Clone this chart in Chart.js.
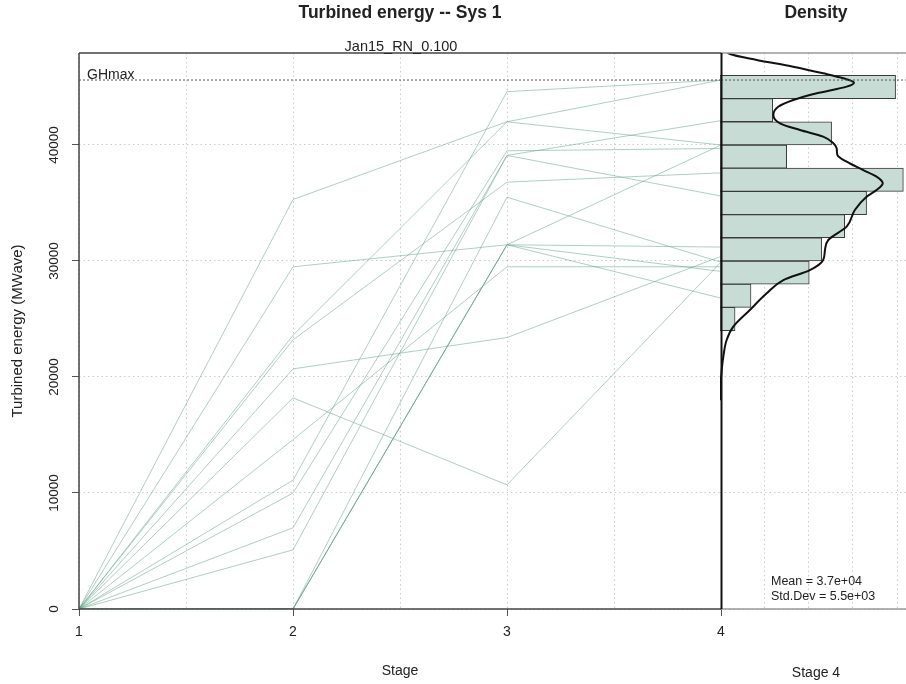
<!DOCTYPE html>
<html>
<head>
<meta charset="utf-8">
<script src="https://cdn.jsdelivr.net/npm/chart.js@4"></script>
<style>
  body { margin: 0; background: #fff; }
  #wrap { position: relative; width: 906px; height: 684px; overflow: hidden; font-family: 'Liberation Sans', Arial, sans-serif; color: #222; }
  canvas { position: absolute; left: 0; top: 0; }
  #densChart { pointer-events: none; }
  .txt { position: absolute; white-space: nowrap; line-height: 1; transform: translate(-50%, -50%); }
  .left { transform: translate(0, -50%); }
  .bold { font-weight: bold; }
</style>
</head>
<body>
<div id="wrap">
  <canvas id="mainChart" width="906" height="684"></canvas>
  <canvas id="densChart" width="906" height="684"></canvas>
  <div class="txt bold" style="left:400px;top:13px;font-size:17.5px">Turbined energy -- Sys 1</div>
  <div class="txt" style="left:401px;top:46px;font-size:14.5px">Jan15_RN_0.100</div>
  <div class="txt bold" style="left:816px;top:13px;font-size:17.5px">Density</div>
  <div class="txt left" style="left:87px;top:74px;font-size:14px">GHmax</div>
  <div class="txt left" style="left:771px;top:581px;font-size:12.5px">Mean = 3.7e+04</div>
  <div class="txt left" style="left:771px;top:596px;font-size:12.5px">Std.Dev = 5.5e+03</div>
  <div class="txt" style="left:816px;top:672px;font-size:14px">Stage 4</div>
</div>
<script>
// stages on the x axis
const stages = [1, 2, 3, 4];

// turbined energy per scenario (MWave), stage 1..4
const scen01 = [0, 35300, 42000, 40000];
const scen02 = [0, 29500, 31400, 31200];
const scen03 = [0, 23600, 42000, 45600];
const scen04 = [0, 23200, 36800, 37600];
const scen05 = [0, 20700, 23400, 30400];
const scen06 = [0, 18200, 10700, 29900];
const scen07 = [0, 14600, 29500, 29500];
const scen08 = [0, 11100, 44600, 45600];
const scen09 = [0, 10000, 39500, 39700];
const scen10 = [0, 7000, 39100, 35600];
const scen11 = [0, 5100, 39100, 42100];
const scen12 = [0, 0, 31400, 40000];
const scen13 = [0, 0, 31400, 29100];
const scen14 = [0, 0, 31400, 26800];
const scen15 = [0, 0, 35500, 29900];
const scenarios = [scen01, scen02, scen03, scen04, scen05, scen06, scen07, scen08,
                   scen09, scen10, scen11, scen12, scen13, scen14, scen15];

const ghMax = 45600;
const yTickLabels = [0, 10000, 20000, 30000, 40000];
const densGrid = [2, 4, 6, 8];

// stage 4 histogram (bin centres, density x 1e-5)
const histBins = [25000, 27000, 29000, 31000, 33000, 35000, 37000, 39000, 41000, 43000, 45000];
const histDensity = [0.68, 1.40, 4.03, 4.59, 5.63, 6.62, 8.28, 3.01, 5.04, 2.38, 7.93];

// kernel density estimate (value, density x 1e-5)
const kdeValues = [18000, 20000, 21750, 23190, 24340, 25780, 27210, 28360, 29220, 30090,
                   30950, 31810, 32960, 34400, 35540, 36120, 36700, 37270, 37840, 38560,
                   39140, 39710, 40150, 40720, 41290, 41870, 42590, 43300, 43880, 44460,
                   45030, 45370, 45750, 46180, 46750, 47330, 47840, 48500];
const kdeDensity = [0.0, 0.05, 0.15, 0.30, 0.60, 1.35, 2.11, 2.86, 4.06, 4.66,
                    4.74, 4.89, 5.72, 6.09, 6.62, 7.07, 7.35, 7.07, 6.47, 5.72,
                    5.30, 5.27, 5.12, 4.66, 3.61, 2.71, 2.41, 2.63, 3.31, 4.37,
                    5.72, 6.05, 5.57, 4.66, 3.30, 1.66, 0.45, 0.15];

const fontFam = "'Liberation Sans', Arial, sans-serif";
const yMax = 47930;
const lineColor = 'rgba(95, 160, 135, 0.5)';
const gridColor = 'rgba(0, 0, 0, 0.2)';
const gridDash = [1.5, 3];

// box, GHmax line and rotated y tick labels
const mainDecor = {
  id: 'mainDecor',
  afterDraw(chart) {
    const ctx = chart.ctx;
    const a = chart.chartArea;
    const ys = chart.scales.y;
    ctx.save();
    ctx.strokeStyle = '#444';
    ctx.lineWidth = 1.5;
    ctx.beginPath();
    ctx.moveTo(a.left, a.top); ctx.lineTo(a.right, a.top);
    ctx.moveTo(a.left, a.top); ctx.lineTo(a.left, a.bottom);
    ctx.moveTo(a.left, a.bottom); ctx.lineTo(a.right, a.bottom);
    ctx.stroke();

    const gy = ys.getPixelForValue(ghMax);
    ctx.strokeStyle = '#555';
    ctx.lineWidth = 1;
    ctx.setLineDash([2, 2]);
    ctx.beginPath();
    ctx.moveTo(a.left, gy); ctx.lineTo(a.right, gy);
    ctx.stroke();
    ctx.setLineDash([]);

    ctx.fillStyle = '#222';
    ctx.font = '13.5px ' + fontFam;
    ctx.textAlign = 'center';
    ctx.textBaseline = 'middle';
    yTickLabels.forEach(v => {
      ctx.save();
      ctx.translate(54, ys.getPixelForValue(v));
      ctx.rotate(-Math.PI / 2);
      ctx.fillText(String(v), 0, 0);
      ctx.restore();
    });
    ctx.restore();
  }
};

const densDecor = {
  id: 'densDecor',
  afterDraw(chart) {
    const ctx = chart.ctx;
    const a = chart.chartArea;
    const gy = chart.scales.y.getPixelForValue(ghMax);
    ctx.save();
    ctx.strokeStyle = '#999';
    ctx.lineWidth = 1.5;
    ctx.beginPath();
    ctx.moveTo(721, a.top); ctx.lineTo(a.right, a.top);
    ctx.moveTo(721, a.bottom); ctx.lineTo(a.right, a.bottom);
    ctx.stroke();

    ctx.strokeStyle = '#555';
    ctx.lineWidth = 1;
    ctx.setLineDash([2, 2]);
    ctx.beginPath();
    ctx.moveTo(721, gy); ctx.lineTo(a.right, gy);
    ctx.stroke();
    ctx.setLineDash([]);

    ctx.strokeStyle = '#111';
    ctx.lineWidth = 2;
    ctx.beginPath();
    ctx.moveTo(721.5, a.top); ctx.lineTo(721.5, a.bottom);
    ctx.stroke();
    ctx.restore();
  }
};

const mainChart = new Chart(document.getElementById('mainChart'), {
  type: 'line',
  data: {
    datasets: scenarios.map(s => ({
      data: s.map((v, i) => ({ x: stages[i], y: v })),
      borderColor: lineColor,
      borderWidth: 1,
      pointRadius: 0,
      fill: false,
      tension: 0
    }))
  },
  options: {
    responsive: false,
    animation: false,
    layout: { padding: { left: 0, top: 53, right: 185, bottom: 0 } },
    plugins: { legend: { display: false }, tooltip: { enabled: false } },
    scales: {
      x: {
        type: 'linear', min: 1, max: 4,
        ticks: {
          stepSize: 0.5, includeBounds: false, autoSkip: false, maxRotation: 0,
          padding: 8, color: '#222', font: { size: 14, family: fontFam },
          callback: v => Number.isInteger(v) ? String(v) : ''
        },
        grid: {
          color: gridColor, tickLength: 7, tickWidth: 1,
          tickColor: c => Number.isInteger(c.tick.value) ? '#555' : 'rgba(0,0,0,0)'
        },
        border: { display: false, dash: gridDash },
        title: { display: true, text: 'Stage', color: '#222', font: { size: 14, family: fontFam }, padding: { top: 0, bottom: 4 } },
        afterFit: s => { s.height = 75; }
      },
      y: {
        type: 'linear', min: 0, max: yMax,
        ticks: { display: false },
        afterBuildTicks: s => { s.ticks = yTickLabels.map(v => ({ value: v })); },
        grid: { color: gridColor, tickLength: 7, tickWidth: 1, tickColor: '#555' },
        border: { display: false, dash: gridDash },
        title: { display: true, text: 'Turbined energy (MWave)', color: '#222', font: { size: 15, family: fontFam }, padding: { top: 9, bottom: 0 } },
        afterFit: s => { s.width = 79; }
      }
    }
  },
  plugins: [mainDecor]
});

const densChart = new Chart(document.getElementById('densChart'), {
  type: 'bar',
  data: {
    datasets: [
      {
        type: 'line',
        indexAxis: 'y',
        data: kdeValues.map((v, i) => ({ x: kdeDensity[i], y: v })),
        borderColor: '#111',
        borderWidth: 2,
        pointRadius: 0,
        cubicInterpolationMode: 'monotone',
        order: 0
      },
      {
        type: 'bar',
        indexAxis: 'y',
        data: histBins.map((b, i) => ({ x: histDensity[i], y: b })),
        backgroundColor: '#c7dcd4',
        borderColor: '#3a3a3a',
        borderWidth: 1,
        borderSkipped: false,
        barPercentage: 1,
        categoryPercentage: 1,
        order: 1
      }
    ]
  },
  options: {
    indexAxis: 'y',
    responsive: false,
    animation: false,
    layout: { padding: { left: 720, top: 53, right: 0, bottom: 75 } },
    plugins: { legend: { display: false }, tooltip: { enabled: false } },
    scales: {
      x: {
        type: 'linear', position: 'bottom', min: 0, max: 8.4,
        ticks: { display: false },
        afterBuildTicks: s => { s.ticks = densGrid.map(v => ({ value: v })); },
        grid: { color: gridColor, drawTicks: false },
        border: { display: false, dash: gridDash },
        afterFit: s => { s.height = 0; }
      },
      y: {
        type: 'linear', position: 'left', min: 0, max: yMax, offset: false,
        ticks: { display: false },
        afterBuildTicks: s => { s.ticks = yTickLabels.map(v => ({ value: v })); },
        grid: { color: gridColor, drawTicks: false, offset: false },
        border: { display: false, dash: gridDash },
        afterFit: s => { s.width = 0; }
      }
    }
  },
  plugins: [densDecor]
});
</script>
</body>
</html>
